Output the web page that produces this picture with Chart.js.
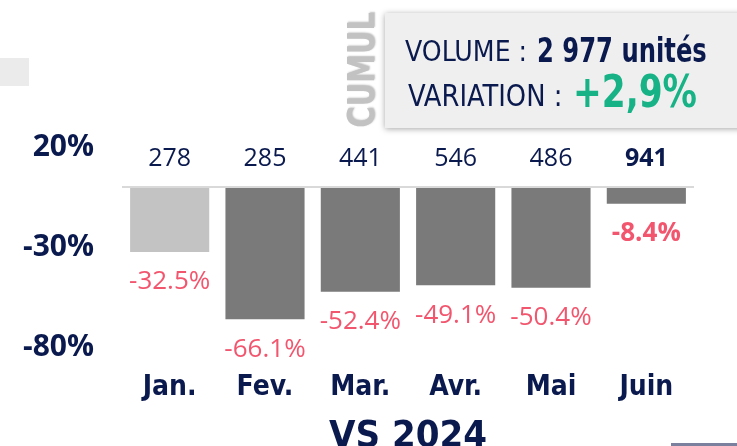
<!DOCTYPE html>
<html>
<head>
<meta charset="utf-8">
<script src="https://cdn.jsdelivr.net/npm/chart.js@4.4.1/dist/chart.umd.min.js"></script>
<style>
  body { margin: 0; width: 737px; height: 446px; overflow: hidden; background: #fff; position: relative; }
  #chart { position: absolute; left: 0; top: 0; }
  .sq { position: absolute; left: 0; top: 58px; width: 29px; height: 28px; background: #ebebeb; }
  .box { position: absolute; left: 385px; top: 13px; width: 360px; height: 115px; background: #efefef;
         box-shadow: 0 1px 6px rgba(0,0,0,0.35); }
  .fit { position: absolute; white-space: nowrap; line-height: 1; color: #0b1a4e;
         font-family: 'DejaVu Sans Condensed', 'DejaVu Sans', sans-serif; transform-origin: 0 50%; }
  .cumul { position: absolute; left: 361px; top: 70px; white-space: nowrap; line-height: 1;
           color: #c2c2c2; font: bold 38px 'DejaVu Sans', sans-serif;
           text-shadow: 1px 1px 2px rgba(0,0,0,0.25); }
  .foot { position: absolute; left: 671px; top: 443px; width: 66px; height: 3px; background: #7a809e; }
</style>
</head>
<body>
<div class="sq"></div>
<canvas id="chart" width="737" height="446"></canvas>
<div class="cumul" id="cumul">CUMUL</div>
<div class="box"></div>
<div class="fit" data-w="122" style="left:405px; top:37px; font-size:29px;">VOLUME :</div>
<div class="fit" data-w="170" style="left:537px; top:34px; font-size:33px; font-weight:bold;">2 977 unités</div>
<div class="fit" data-w="154" style="left:408px; top:81px; font-size:30px;">VARIATION :</div>
<div class="fit" data-w="124" style="left:573px; top:70px; font-size:44px; font-weight:bold; color:#17b386;">+2,9%</div>
<div class="foot"></div>
<script>
const categories = ['Jan.', 'Fev.', 'Mar.', 'Avr.', 'Mai', 'Juin'];
const variations = [-32.5, -66.1, -52.4, -49.1, -50.4, -8.4];
const volumes = [278, 285, 441, 546, 486, 941];
const yTicks = [-80, -30, 20];

const navy = '#0b1a4e';
const pink = '#f2566e';
const numFont = "'Open Sans', sans-serif";
const condFont = "'DejaVu Sans Condensed', 'DejaVu Sans', sans-serif";

// squeeze the header texts to the widths they take in the picture
document.querySelectorAll('.fit').forEach(el => {
    el.style.transform = 'scaleX(' + (el.dataset.w / el.offsetWidth) + ')';
});
const cumul = document.getElementById('cumul');
cumul.style.transform = 'translate(-50%,-50%) rotate(-90deg) scaleX(' + (116 / cumul.offsetWidth) + ')';

// volumes above the zero line, variations under each bar
const barLabels = {
    id: 'barLabels',
    afterDatasetsDraw(chart) {
        const ctx = chart.ctx;
        const y0 = chart.scales.y.getPixelForValue(0);
        chart.getDatasetMeta(0).data.forEach((bar, i) => {
            const last = i === categories.length - 1;
            ctx.save();
            ctx.textAlign = 'center';
            ctx.textBaseline = 'middle';
            ctx.fillStyle = navy;
            ctx.font = (last ? 'bold ' : '') + '25px ' + numFont;
            ctx.fillText(volumes[i], bar.x, y0 - 28);
            ctx.fillStyle = pink;
            ctx.font = (last ? 'bold ' : '') + '26px ' + numFont;
            ctx.fillText(variations[i].toFixed(1) + '%', bar.x, bar.y + 30);
            ctx.restore();
        });
    }
};

new Chart(document.getElementById('chart'), {
    type: 'bar',
    data: {
        labels: categories,
        datasets: [{
            data: variations,
            backgroundColor: ['#c3c3c3', '#7a7a7a', '#7a7a7a', '#7a7a7a', '#7a7a7a', '#7a7a7a'],
            barPercentage: 0.83,
            categoryPercentage: 1
        }]
    },
    options: {
        responsive: false,
        animation: false,
        devicePixelRatio: 1,
        layout: { padding: { top: 147, right: 43, left: 0, bottom: 0 } },
        plugins: { legend: { display: false }, tooltip: { enabled: false } },
        scales: {
            x: {
                afterFit: s => { s.height = 99; },
                border: { display: false },
                grid: { display: false, drawTicks: false },
                ticks: { padding: 24, color: navy, font: { family: condFont, size: 28, weight: 'bold' } },
                title: {
                    display: true, text: 'VS 2024', color: navy, padding: 0,
                    font: { family: condFont, size: 38, weight: 'bold', lineHeight: 0.47 }
                }
            },
            y: {
                min: -80,
                max: 20,
                afterBuildTicks: s => { s.ticks = [-80, -30, 0, 20].map(v => ({ value: v })); },
                afterFit: s => { s.width = 122; },
                border: { display: false },
                grid: {
                    drawTicks: false,
                    lineWidth: 2,
                    color: c => (c.tick && c.tick.value === 0) ? '#d9d9d9' : 'rgba(0,0,0,0)'
                },
                ticks: {
                    padding: 28,
                    color: navy,
                    font: { family: numFont, size: 30, weight: 'bold' },
                    callback: v => yTicks.includes(v) ? v + '%' : ''
                }
            }
        }
    },
    plugins: [barLabels]
});
</script>
</body>
</html>
